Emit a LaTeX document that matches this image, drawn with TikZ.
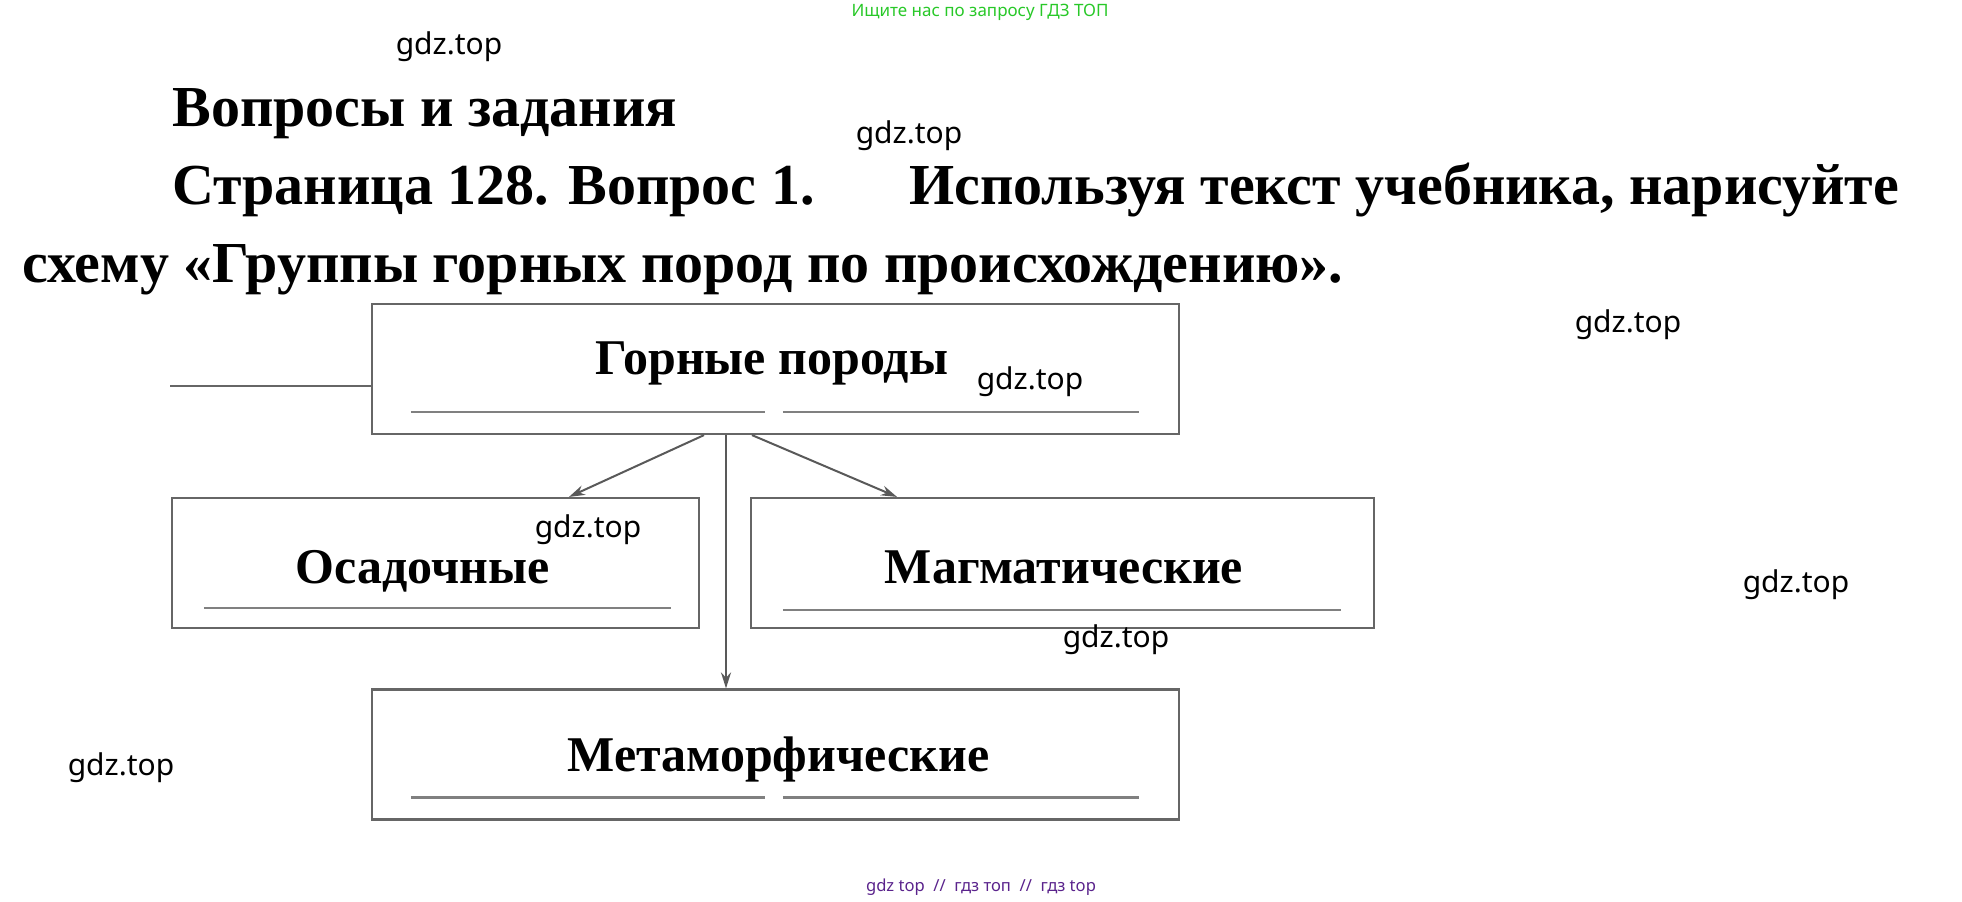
\documentclass[tikz,border=0pt]{standalone}
\usepackage{fontspec}
\setmainfont{Liberation Serif}
\newfontfamily\marksans{Noto Sans}
\usetikzlibrary{positioning,calc,arrows.meta}

\definecolor{markgreen}{RGB}{40,200,40}
\definecolor{markpurple}{RGB}{90,35,140}

\begin{document}
\begin{tikzpicture}[x=0.5pt, y=-0.5pt,
    rockbox/.style={rectangle, draw=black!60, line width=1.1pt, minimum height=65pt, inner sep=0pt},
    rocklabel/.style={anchor=base, inner sep=0pt, font=\fontsize{25}{30}\selectfont\bfseries},
    heading/.style={anchor=base west, inner sep=0pt, font=\fontsize{29}{35}\selectfont\bfseries},
    underline/.style={draw=black!50, line width=1.3pt},
    pointer/.style={-{Stealth[length=8pt, width=5pt]}, draw=black!65, line width=1pt},
    wmark/.style={inner sep=0pt, font=\marksans\fontsize{15}{17}\selectfont}
]
    \useasboundingbox (0,0) rectangle (1962,901);

    % Headings
    \node[heading] (title) at (172,126) {Вопросы и задания};
    \node[heading] (task) at (172,204) {Страница 128. Вопрос 1.};
    \node[heading] (task2) at (909,204) {Используя текст учебника, нарисуйте};
    \node[heading] (task3) at (22,282) {схему «Группы горных пород по происхождению».};

    % Rocks
    \node[rockbox, minimum width=403.5pt] (rocks) at (775.5,369) {};
    \node[rocklabel] (rockstxt) at (772,374) {Горные породы};

    % Sedimentary
    \node[rockbox, minimum width=263.5pt] (sed) at (435.5,563) {};
    \node[rocklabel] (sedtxt) at (422.5,583) {Осадочные};

    % Igneous
    \node[rockbox, minimum width=311.5pt] (ign) at (1062.5,563) {};
    \node[rocklabel] (igntxt) at (1064,583) {Магматические};

    % Metamorphic
    \node[rockbox, minimum width=403.5pt] (meta) at (775.5,754.5) {};
    \node[rocklabel] (metatxt) at (778.5,771) {Метаморфические};

    % Underlines
    \draw[underline] ($(rocks.west)+(40,43)$) -- ++(354,0);
    \draw[underline] ($(rocks.west)+(412,43)$) -- ++(356,0);
    \draw[underline] ($(sed.west)+(33,45)$) -- ++(467,0);
    \draw[underline] ($(ign.west)+(33,47)$) -- ++(558,0);
    \draw[underline] ($(meta.west)+(40,43)$) -- ++(354,0);
    \draw[underline] ($(meta.west)+(412,43)$) -- ++(356,0);

    % Arrows
    \coordinate (stub) at (170,386);
    \draw[draw=black!60, line width=1.1pt] (stub) -- (stub -| rocks.west);
    \draw[pointer] ($(rocks.south)+(-71.5,0)$) -- ($(sed.north)+(133.5,0)$);
    \draw[pointer] ($(rocks.south)+(-23.5,0)$) -- ($(ign.north)+(-165.5,0)$);
    \draw[pointer] ($(rocks.south)+(-49.5,0)$) -- ($(meta.north)+(-49.5,0)$);

    % Watermarks
    \node[wmark, text=markgreen, font=\marksans\fontsize{8.5}{10}\selectfont] (find) at (980,12) {Ищите нас по запросу ГДЗ ТОП};
    \node[wmark] (w1) at (449,47) {gdz.top};
    \node[wmark] (w2) at (909,136) {gdz.top};
    \node[wmark] (w3) at (1628,325) {gdz.top};
    \node[wmark] (w4) at (1030,382) {gdz.top};
    \node[wmark] (w5) at (588,530) {gdz.top};
    \node[wmark] (w6) at (1796,585) {gdz.top};
    \node[wmark] (w7) at (1116,640) {gdz.top};
    \node[wmark] (w8) at (121,768) {gdz.top};
    \node[wmark, text=markpurple, font=\marksans\fontsize{8.3}{10}\selectfont] (foot) at (981,887) {gdz top~~//~~гдз топ~~//~~гдз top};
\end{tikzpicture}
\end{document}
